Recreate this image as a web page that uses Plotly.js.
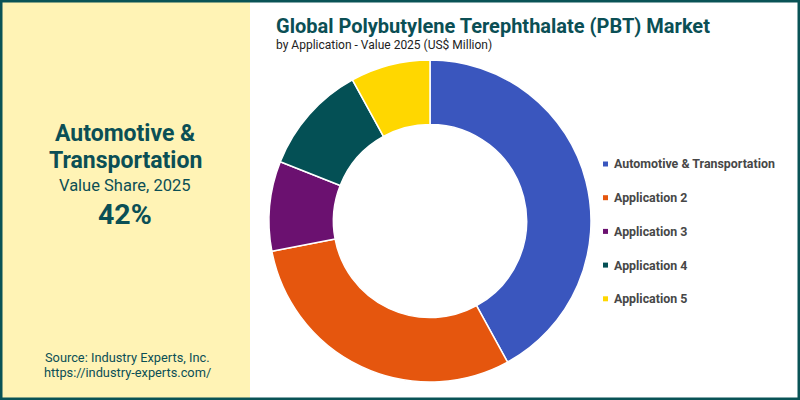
<!DOCTYPE html>
<html><head><meta charset="utf-8">
<script src="https://cdn.plot.ly/plotly-3.0.1.min.js"></script>
<style>html,body{margin:0;padding:0;background:#fff;}#chart{width:800px;height:400px;}</style>
</head><body><div id="chart"></div>
<script>
const categories = ["Automotive & Transportation", "Application 2", "Application 3", "Application 4", "Application 5"];
const shares = [42, 30, 9, 11, 8];
const colors = ["#3A56BE", "#E5560E", "#6B1170", "#045055", "#FFD700"];
const titleText = "Global Polybutylene Terephthalate (PBT) Market";
const subtitleText = "by Application - Value 2025 (US$ Million)";
const highlightName = ["Automotive &", "Transportation"];
const highlightLabel = "Value Share, 2025";
const highlightValue = "42%";
const sourceLines = ["Source: Industry Experts, Inc.", "https://industry-experts.com/"];

const W = 800, H = 400;
const px = x => x / W, py = y => 1 - y / H;
const teal = "#0B4F55";

const shapes = [
  {type: "rect", xref: "paper", yref: "paper", x0: 0, x1: px(250), y0: 0, y1: 1, fillcolor: "#FFF3B5", line: {width: 0}, layer: "below"},
  {type: "rect", xref: "paper", yref: "paper", x0: px(1), x1: px(799), y0: py(399), y1: py(1), fillcolor: "rgba(0,0,0,0)", line: {color: "#0A5356", width: 3}}
];
const annotations = [
  {text: "<b>" + titleText + "</b>", x: px(274), y: py(26), xanchor: "left", yanchor: "middle", font: {family: "Roboto", size: 20, color: teal}},
  {text: subtitleText, x: px(274), y: py(45), xanchor: "left", yanchor: "middle", font: {family: "Roboto", size: 12, color: "#222"}},
  {text: "<b>" + highlightName[0] + "</b>", x: px(125), y: py(133), xanchor: "center", yanchor: "middle", font: {family: "Roboto", size: 23, color: teal}},
  {text: "<b>" + highlightName[1] + "</b>", x: px(125), y: py(160), xanchor: "center", yanchor: "middle", font: {family: "Roboto", size: 23, color: teal}},
  {text: highlightLabel, x: px(125), y: py(185), xanchor: "center", yanchor: "middle", font: {family: "Roboto", size: 16.5, color: teal}},
  {text: "<b>" + highlightValue + "</b>", x: px(125), y: py(214), xanchor: "center", yanchor: "middle", font: {family: "Roboto", size: 28.5, color: teal}},
  {text: sourceLines[0], x: px(127), y: py(357), xanchor: "center", yanchor: "middle", font: {family: "Roboto", size: 12.8, color: teal}},
  {text: sourceLines[1], x: px(127), y: py(372), xanchor: "center", yanchor: "middle", font: {family: "Roboto", size: 12.8, color: teal}}
];
categories.forEach((c, i) => {
  const yc = 164 + i * 33.7;
  shapes.push({type: "rect", xref: "paper", yref: "paper", x0: px(603), x1: px(608), y0: py(yc + 2.5), y1: py(yc - 2.5), fillcolor: colors[i], line: {width: 0}});
  annotations.push({text: "<b>" + c + "</b>", x: px(612), y: py(yc), xanchor: "left", yanchor: "middle", font: {family: "Roboto", size: 12.4, color: "#474747"}});
});
annotations.forEach(a => { a.xref = "paper"; a.yref = "paper"; a.showarrow = false; });

const data = [{
  type: "pie", labels: categories, values: shares, hole: 0.6, sort: false,
  direction: "clockwise", rotation: 0, textinfo: "none", hoverinfo: "label+percent",
  marker: {colors: colors, line: {color: "#fff", width: 1.5}},
  domain: {x: [px(269), px(591)], y: [py(382), py(60)]}
}];
const layout = {
  width: W, height: H, margin: {l: 0, r: 0, t: 0, b: 0},
  paper_bgcolor: "#fff", showlegend: false, shapes, annotations
};
Plotly.newPlot("chart", data, layout, {displayModeBar: false, staticPlot: true});
</script></body></html>
